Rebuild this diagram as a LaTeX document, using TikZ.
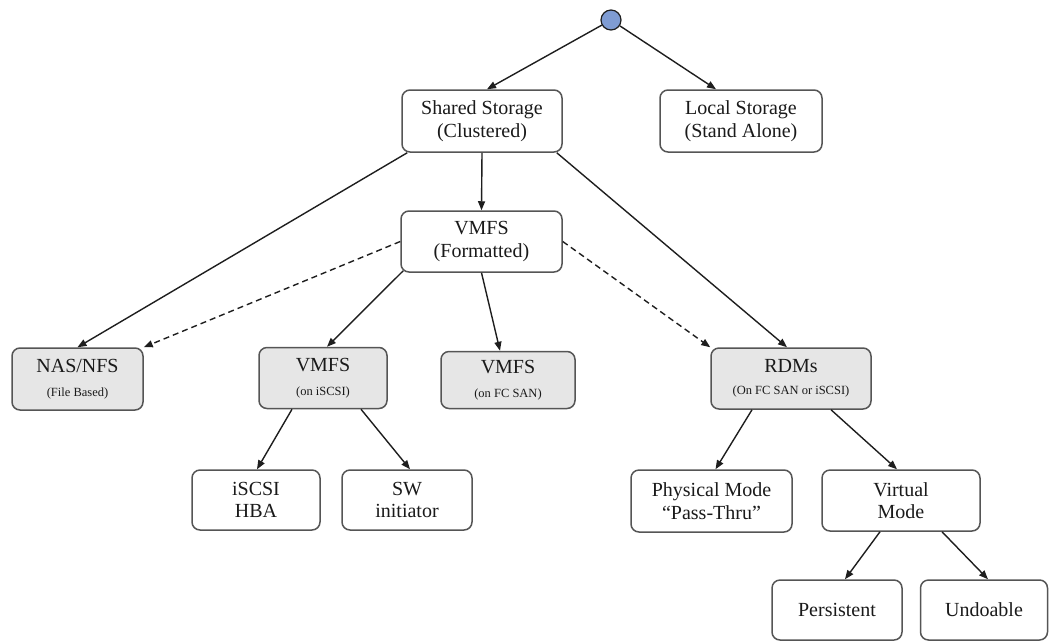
\documentclass[tikz,border=0pt]{standalone}
\usepackage{fontspec}
\setmainfont{Liberation Serif}[Ligatures=TeX]
\usetikzlibrary{arrows.meta}
\definecolor{boxline}{HTML}{555555}
\definecolor{boxfill}{HTML}{E6E6E6}
\definecolor{edgecol}{HTML}{1E1E1E}
\definecolor{rootfill}{HTML}{7F9CD3}
\definecolor{txtcol}{HTML}{1A1A1A}
\newcommand{\bigtxt}{\rmfamily\fontsize{20}{22.5}\selectfont}
\newcommand{\subtxt}[1]{{\rmfamily\fontsize{12.5}{14}\selectfont #1}}
\tikzset{
  box/.style={draw=boxline, line width=1.5pt, rounded corners=8pt, fill=white,
    align=center, inner sep=0pt, text=txtcol, font=\bigtxt},
  greybox/.style={box, fill=boxfill},
  edge/.style={draw=edgecol, line width=1.4pt, -{Triangle[length=9pt,width=7pt]}},
  dedge/.style={edge, dash pattern=on 6pt off 4pt},
}
\begin{document}
\begin{tikzpicture}[x=1pt,y=-1pt]
\useasboundingbox (0,0) rectangle (1049,641);
\node[circle, draw=edgecol, line width=1.2pt, fill=rootfill, minimum size=20pt, inner sep=0pt] (root) at (611,20) {};
\node[box, minimum width=160pt, minimum height=62pt] (shared) at (482,121) {Shared Storage\\(Clustered)};
\node[box, minimum width=162pt, minimum height=62pt] (local) at (741,121) {Local Storage\\(Stand Alone)};
\node[box, minimum width=161pt, minimum height=61pt] (vmfs) at (481.5,241.5) {VMFS\\(Formatted)};
\node[greybox, minimum width=131pt, minimum height=62pt] (nas) at (77.5,379) {NAS/NFS\\[2pt]\subtxt{(File Based)}};
\node[greybox, minimum width=128pt, minimum height=61pt] (iscsi) at (323,378) {VMFS\\[2pt]\subtxt{(on iSCSI)}};
\node[greybox, minimum width=134pt, minimum height=57pt] (fcsan) at (508,380) {VMFS\\[2pt]\subtxt{(on FC SAN)}};
\node[greybox, minimum width=160pt, minimum height=61pt] (rdms) at (791,378.5) {RDMs\\[0pt]\subtxt{(On FC SAN or iSCSI)}};
\node[box, minimum width=128pt, minimum height=60pt] (hba) at (256,500) {iSCSI\\HBA};
\node[box, minimum width=130pt, minimum height=60pt] (sw) at (407,500) {SW\\initiator};
\node[box, minimum width=161pt, minimum height=62pt] (phys) at (711.5,501) {Physical Mode\\“Pass-Thru”};
\node[box, minimum width=158pt, minimum height=61pt] (virt) at (901,500.5) {Virtual\\Mode};
\node[box, minimum width=130pt, minimum height=60pt] (pers) at (837,610) {Persistent};
\node[box, minimum width=127pt, minimum height=60pt] (undo) at (984,610) {Undoable};

\draw[edge] (root) -- ([xshift=5pt]shared.north);
\draw[edge] (root) -- ([xshift=-25pt]local.north);
\draw[edge] (shared.south) -- (vmfs.north);
\draw[edge] ([xshift=6pt]shared.south west) -- (nas.north);
\draw[edge] ([xshift=-6pt]shared.south east) -- ([xshift=-4pt]rdms.north);
\draw[dedge] (vmfs.west) -- (nas.north east);
\draw[dedge] (vmfs.east) -- (rdms.north west);
\draw[edge] ([xshift=3pt,yshift=2pt]vmfs.south west) -- ([xshift=4pt]iscsi.north);
\draw[edge] (vmfs.south) -- ([xshift=-8pt]fcsan.north);
\draw[edge] ([xshift=-31pt]iscsi.south) -- ([xshift=1pt]hba.north);
\draw[edge] ([xshift=38pt]iscsi.south) -- ([xshift=3pt]sw.north);
\draw[edge] ([xshift=-39pt]rdms.south) -- ([xshift=4pt]phys.north);
\draw[edge] ([xshift=40pt]rdms.south) -- ([xshift=-4pt]virt.north);
\draw[edge] ([xshift=-21pt]virt.south) -- ([xshift=8pt]pers.north);
\draw[edge] ([xshift=41pt]virt.south) -- ([xshift=4pt]undo.north);
\end{tikzpicture}
\end{document}
